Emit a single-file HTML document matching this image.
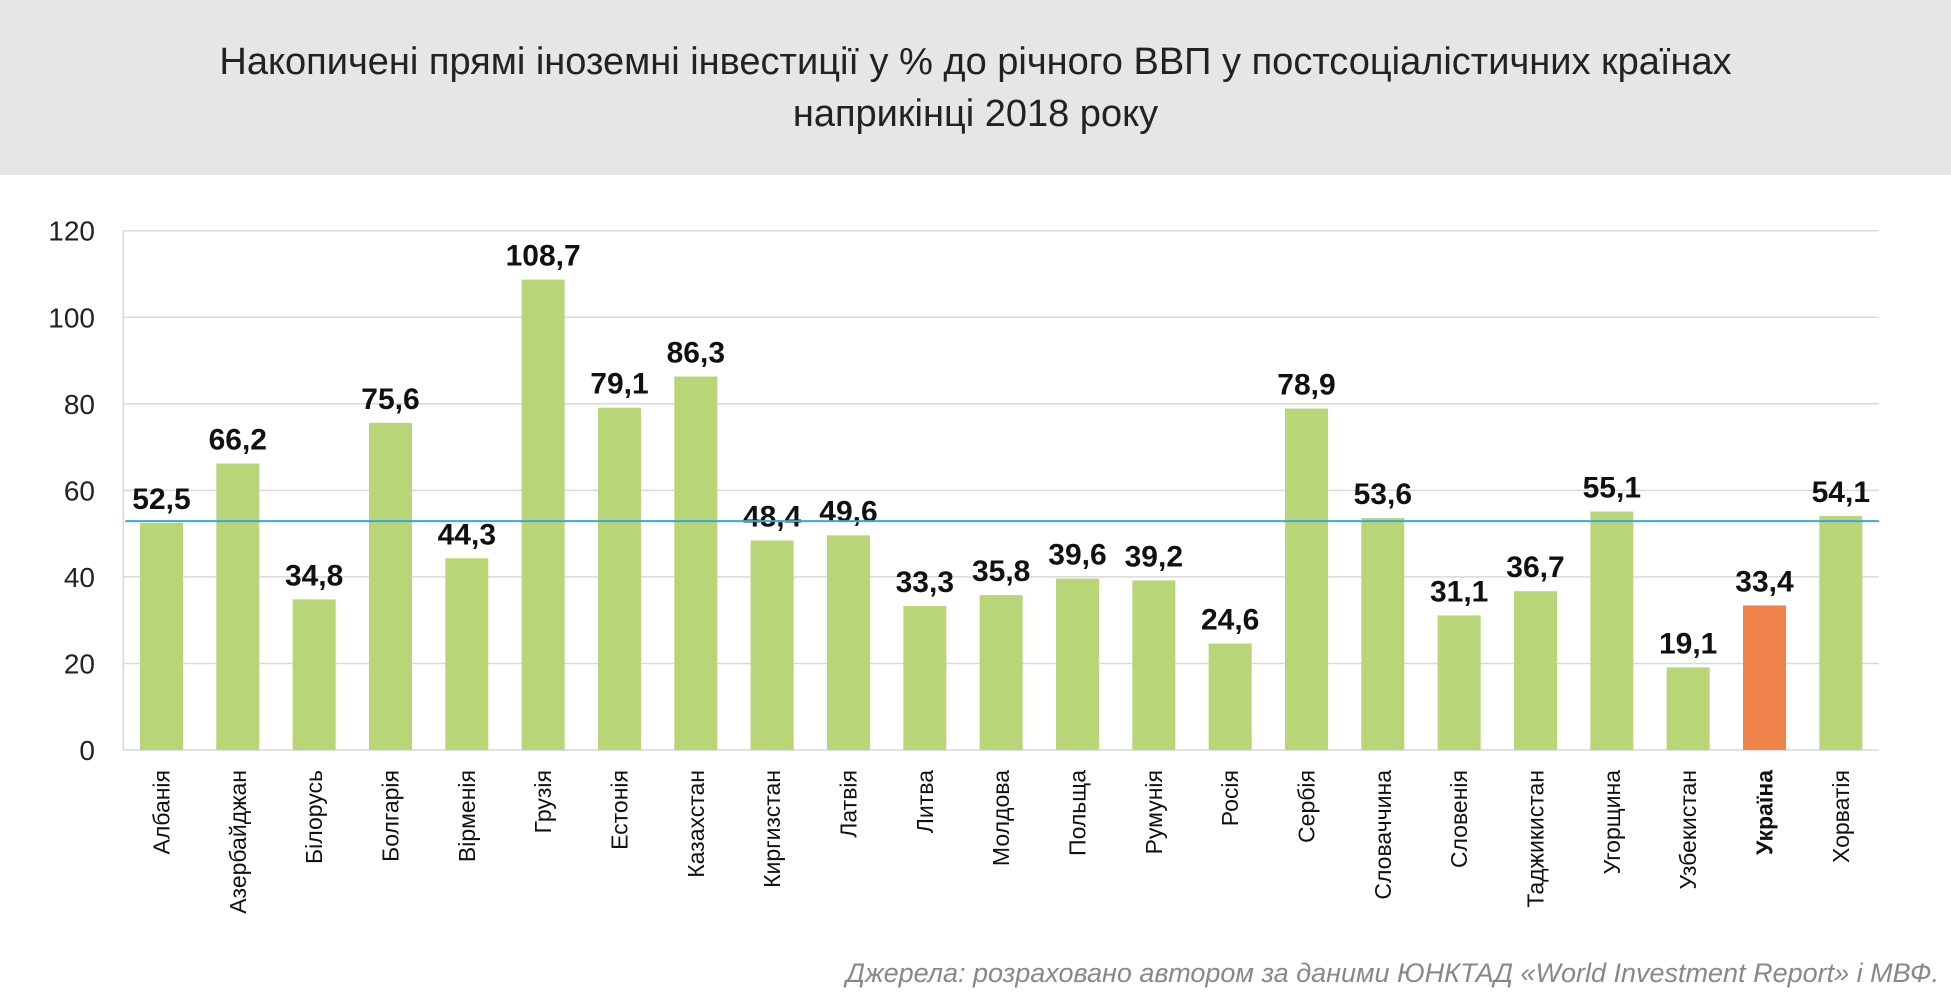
<!DOCTYPE html>
<html><head><meta charset="utf-8"><style>
body{margin:0;width:1951px;height:1005px;background:#fff;overflow:hidden;font-family:"Liberation Sans",sans-serif}
#hdr{position:absolute;left:0;top:0;width:1951px;height:175px;background:#e5e6e8}
#title{position:absolute;left:0;top:36px;width:1951px;text-align:center;font-size:38px;line-height:52px;color:#222}
#src{position:absolute;right:12px;top:958px;font-size:27px;font-style:italic;color:#888}
</style></head><body>
<div id="hdr"></div>
<div id="title">Накопичені прямі іноземні інвестиції у % до річного ВВП у постсоціалістичних країнах<br>наприкінці 2018 року</div>
<svg id="chart" width="1951" height="1005" style="position:absolute;left:0;top:0"></svg>
<div id="src">Джерела: розраховано автором за даними ЮНКТАД «World Investment Report» і МВФ.</div>
<script>
const categories=["Албанія","Азербайджан","Білорусь","Болгарія","Вірменія","Грузія","Естонія","Казахстан","Киргизстан","Латвія","Литва","Молдова","Польща","Румунія","Росія","Сербія","Словаччина","Словенія","Таджикистан","Угорщина","Узбекистан","Україна","Хорватія"];
const values=[52.5,66.2,34.8,75.6,44.3,108.7,79.1,86.3,48.4,49.6,33.3,35.8,39.6,39.2,24.6,78.9,53.6,31.1,36.7,55.1,19.1,33.4,54.1];
const valueLabels=["52,5","66,2","34,8","75,6","44,3","108,7","79,1","86,3","48,4","49,6","33,3","35,8","39,6","39,2","24,6","78,9","53,6","31,1","36,7","55,1","19,1","33,4","54,1"];
const yTicks=[0,20,40,60,80,100,120];
const averageValue=52.9;
const highlight="Україна";
const NS="http://www.w3.org/2000/svg",svg=document.getElementById('chart');
const L=123.3,R=1879,T=230.7,B=750,yMax=120;
const band=(R-L)/categories.length;
const y=v=>B-(v/yMax)*(B-T);
const xc=i=>L+band*(i+0.5);
function mk(t,a,txt){const e=document.createElementNS(NS,t);for(const k in a)e.setAttribute(k,a[k]);if(txt!=null)e.textContent=txt;svg.appendChild(e);return e;}
yTicks.forEach(t=>{
 if(t>0){const g=mk('line',{x1:L,x2:R,y1:y(t),y2:y(t),stroke:'#d9d9d9','stroke-width':1.5});
 
 }
 const l=mk('text',{x:95,y:y(t)+10,'text-anchor':'end','font-size':28,fill:'#222'},t);
 
 
});
const ax=mk('line',{x1:L,x2:L,y1:T,y2:B,stroke:'#d9d9d9','stroke-width':1.5});


const bx=mk('line',{x1:L,x2:R,y1:B,y2:B,stroke:'#d9d9d9','stroke-width':1.5});


const bw=43;
categories.forEach((c,i)=>{
 const hl=c===highlight;
 const r=mk('rect',{x:xc(i)-bw/2,y:y(values[i]),width:bw,height:B-y(values[i]),fill:hl?'#f0834b':'#b8d577'});
 
 
 const v=mk('text',{x:xc(i),y:y(values[i])-14,'text-anchor':'middle','font-size':30,'font-weight':'bold',fill:'#111'},valueLabels[i]);
 
 
 const t=mk('text',{transform:`translate(${xc(i)+8},770) rotate(-90)`,'text-anchor':'end','font-size':23,'font-weight':hl?'bold':'normal',fill:'#111'},c);
 
 
});
const av=mk('line',{x1:L+2,x2:R,y1:y(averageValue),y2:y(averageValue),stroke:'#3ba6dc','stroke-width':2});


</script>
</body></html>
